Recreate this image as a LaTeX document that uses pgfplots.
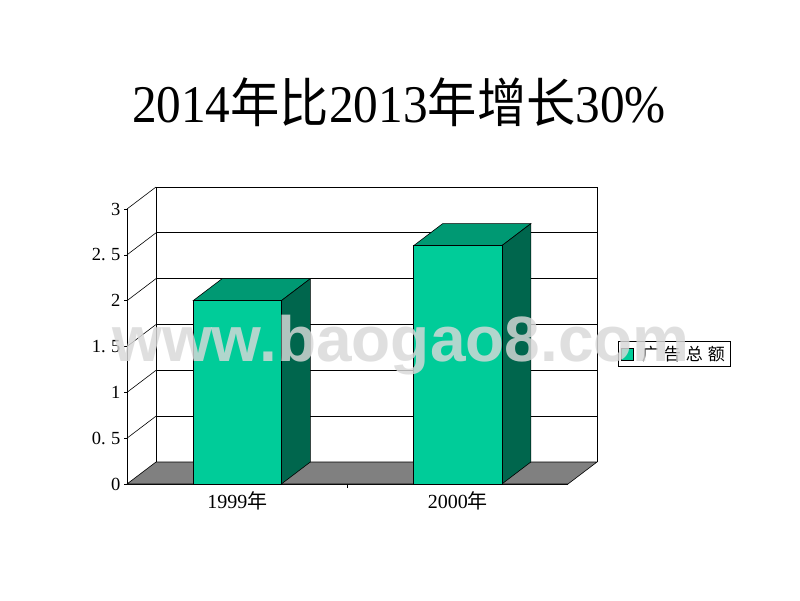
\documentclass[border=0pt]{standalone}
\usepackage{fontspec}
\setmainfont{Liberation Serif}
\newfontfamily\cjk{Noto Sans CJK SC}
\newfontfamily\wmfont{Liberation Sans}
\usepackage{pgfplots}
\pgfplotsset{compat=1.18}

\definecolor{barfront}{HTML}{00CC99}
\definecolor{bartop}{HTML}{009973}
\definecolor{barside}{HTML}{00664D}
\definecolor{floorgray}{HTML}{808080}

\begin{document}
\begin{tikzpicture}[x=1pt,y=1pt]
\path[fill=white] (0,0) rectangle (800,600);

% title
\node[anchor=base] at (399,477) {\scalebox{0.93}[1]{\fontsize{53}{53}\selectfont 2014{\cjk 年比}2013{\cjk 年增长}30\%}};

\begin{axis}[
    at={(127pt,116pt)}, anchor=south west,
    scale only axis, width=441pt, height=275pt,
    xmin=0.5, xmax=2.5, ymin=0, ymax=3,
    clip=false,
    axis x line=bottom, axis y line=left,
    axis line style={-, black, line width=0.8pt},
    xtick={1,2},
    xticklabels={1999{\cjk 年}, 2000{\cjk 年}},
    xtick style={draw=none},
    xticklabel style={font=\fontsize{20}{20}\selectfont, yshift=-1pt},
    ytick={0,0.5,1,1.5,2,2.5,3},
    yticklabels={0, 0.\hspace{0.3em}5, 1, 1.\hspace{0.3em}5, 2, 2.\hspace{0.3em}5, 3},
    yticklabel style={font=\fontsize{18.5}{18.5}\selectfont},
    ytick style={black, line width=0.6pt},
    tick align=outside, major tick length=3pt,
    unbounded coords=jump,
    legend style={at={(1.1134,0.4727)}, anchor=west, draw=black, line width=0.6pt,
        font=\cjk\fontsize{17}{17}\selectfont, inner xsep=3pt, inner ysep=2.5pt},
]
% back wall
\addplot[black, line width=0.8pt, forget plot] coordinates {
    (0.6315,0.24) (0.6315,3.24) (2.6315,3.24) (2.6315,0.24)
    (nan,nan) (0.6315,0.74) (2.6315,0.74)
    (nan,nan) (0.6315,1.24) (2.6315,1.24)
    (nan,nan) (0.6315,1.74) (2.6315,1.74)
    (nan,nan) (0.6315,2.24) (2.6315,2.24)
    (nan,nan) (0.6315,2.74) (2.6315,2.74)
};
% left wall diagonals
\addplot[black, line width=0.6pt, forget plot] coordinates {
    (0.5,0.5) (0.6315,0.74) (nan,nan)
    (0.5,1) (0.6315,1.24) (nan,nan)
    (0.5,1.5) (0.6315,1.74) (nan,nan)
    (0.5,2) (0.6315,2.24) (nan,nan)
    (0.5,2.5) (0.6315,2.74) (nan,nan)
    (0.5,3) (0.6315,3.24)
};
% floor
\addplot[fill=floorgray, draw=black, line width=0.6pt, forget plot] coordinates {
    (0.5,0) (2.5,0) (2.6315,0.24) (0.6315,0.24)
} -- cycle;
% middle category tick
\addplot[black, line width=0.6pt, forget plot] coordinates {(1.5,0) (1.5,-0.045)};

% bar tops
\addplot[fill=bartop, draw=black, line width=0.6pt, forget plot] coordinates {
    (0.8,2.0) (1.2,2.0) (1.3315,2.24) (0.9315,2.24)} -- cycle;
\addplot[fill=bartop, draw=black, line width=0.6pt, forget plot] coordinates {
    (1.8,2.6) (2.2,2.6) (2.3315,2.84) (1.9315,2.84)} -- cycle;
% bar sides
\addplot[fill=barside, draw=black, line width=0.6pt, forget plot] coordinates {
    (1.2,0) (1.3315,0.24) (1.3315,2.24) (1.2,2.0)} -- cycle;
\addplot[fill=barside, draw=black, line width=0.6pt, forget plot] coordinates {
    (2.2,0) (2.3315,0.24) (2.3315,2.84) (2.2,2.6)} -- cycle;
% bar fronts
\addplot[ybar, bar width=0.4, fill=barfront, draw=black, line width=0.6pt,
    legend image code/.code={\draw[fill=barfront,draw=black,line width=0.6pt] (0pt,-6pt) rectangle (12pt,6pt);}]
    coordinates {(1,2.0) (2,2.6)};
\addlegendentry{\hspace{6pt}广\hspace{5pt}告\hspace{5pt}总\hspace{5pt}额}
\end{axis}

% watermark
\node[anchor=base, text=black!15, opacity=0.82, font=\wmfont\bfseries\fontsize{64}{64}\selectfont] at (401,238) {www.baogao8.com};
\end{tikzpicture}
\end{document}
